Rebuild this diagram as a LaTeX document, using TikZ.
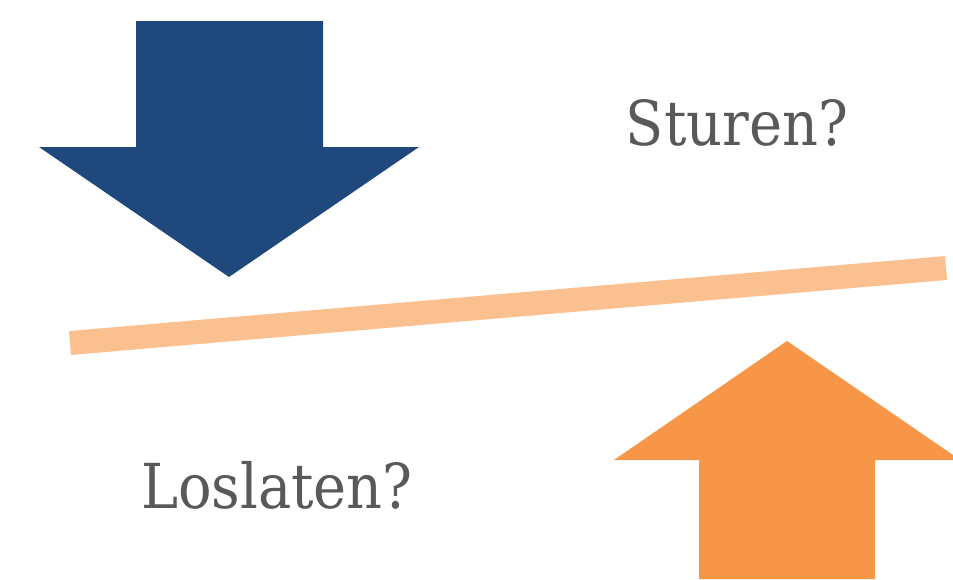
\documentclass[tikz,border=0pt]{standalone}
\usepackage{fontspec}
\setmainfont{DejaVu Serif}
\definecolor{darkblue}{HTML}{1F497D}
\definecolor{orangeA}{HTML}{F79646}
\definecolor{orangeL}{HTML}{FAC090}
\definecolor{textgray}{HTML}{595959}
\newcommand{\narrowtext}[1]{\scalebox{0.9}[1]{#1}}
\begin{document}
\begin{tikzpicture}[x=1pt,y=-1pt,
  lbl/.style={text=textgray,inner sep=0pt,anchor=base,font=\fontsize{62}{70}\selectfont}]
\useasboundingbox (0,0) rectangle (953,579);
% blue down arrow
\fill[darkblue] (136,21) -- (323,21) -- (323,147) -- (419,147) -- (229,277) -- (39,147) -- (136,147) -- cycle;
% orange up arrow
\fill[orangeA] (699,579) -- (699,460) -- (614,460) -- (787,341) -- (953,455) -- (953,460) -- (875,460) -- (875,579) -- cycle;
% balance line
\coordinate (la) at (70,343);
\coordinate (lb) at (946,268);
\draw[orangeL,line width=24pt] (la) -- (lb);
\node[lbl] (st) at (737,145) {\narrowtext{Sturen?}};
\node[lbl] (lo) at (277,508) {\narrowtext{Loslaten?}};
\end{tikzpicture}
\end{document}
